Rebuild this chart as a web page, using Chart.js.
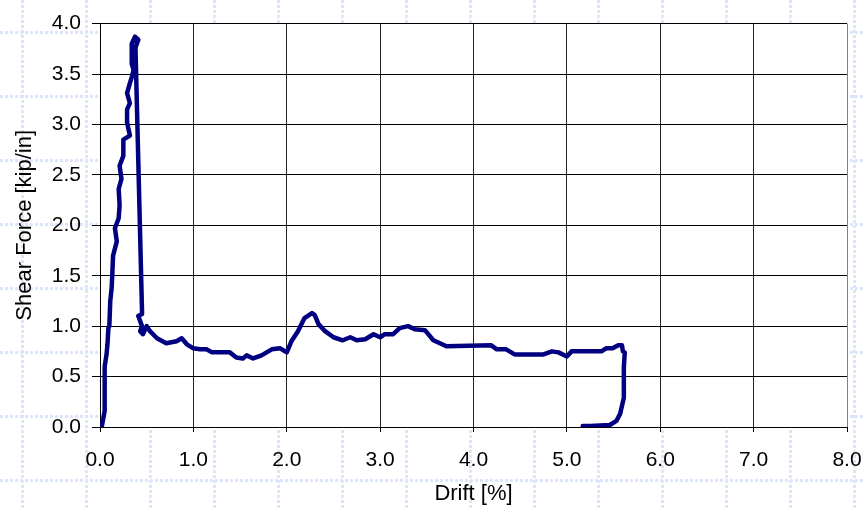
<!DOCTYPE html>
<html>
<head>
<meta charset="utf-8">
<script src="https://cdn.jsdelivr.net/npm/chart.js@4/dist/chart.umd.min.js"></script>
<style>
  html, body { margin: 0; padding: 0; background: #ffffff; }
  #wrap { width: 865px; height: 510px; }
</style>
</head>
<body>
<div id="wrap"><canvas id="c" width="865" height="510"></canvas></div>
<script>
// ---- data ----
const drift = [0.02,0.05,0.05,0.05,0.07,0.08,0.09,0.10,0.11,0.125,0.13,0.14,0.18,0.16,0.20,0.21,0.20,0.23,0.21,0.25,0.25,0.32,0.29,0.29,0.32,0.29,0.32,0.34,0.36,0.34,0.34,0.375,0.41,0.38,0.45,0.45,0.41,0.45,0.43,0.46,0.50,0.535,0.61,0.71,0.82,0.875,0.93,1.0,1.07,1.14,1.2,1.39,1.46,1.53,1.57,1.64,1.73,1.84,1.93,2.0,2.05,2.12,2.19,2.27,2.30,2.34,2.41,2.50,2.60,2.68,2.75,2.84,2.93,3.0,3.05,3.14,3.21,3.30,3.37,3.48,3.57,3.64,3.71,4.19,4.25,4.35,4.44,4.75,4.84,4.91,5.0,5.05,5.37,5.42,5.49,5.55,5.59,5.60,5.62,5.61,5.61,5.57,5.53,5.46,5.25,5.17];
const shear = [0.01,0.16,0.49,0.60,0.72,0.82,0.98,1.00,1.25,1.38,1.48,1.70,1.84,1.97,2.07,2.20,2.36,2.46,2.59,2.69,2.85,2.89,3.02,3.15,3.21,3.31,3.41,3.47,3.54,3.60,3.80,3.87,3.84,3.76,1.15,1.12,1.10,1.00,0.95,0.92,1.00,0.95,0.88,0.83,0.85,0.88,0.82,0.78,0.77,0.77,0.74,0.74,0.69,0.68,0.71,0.68,0.71,0.77,0.78,0.74,0.85,0.95,1.08,1.13,1.11,1.02,0.95,0.89,0.86,0.89,0.86,0.87,0.92,0.89,0.92,0.92,0.98,1.00,0.97,0.96,0.86,0.83,0.80,0.81,0.77,0.77,0.72,0.72,0.75,0.74,0.70,0.75,0.75,0.78,0.78,0.81,0.81,0.75,0.74,0.59,0.29,0.13,0.06,0.02,0.01,0.01];
const xTicks = [0,1,2,3,4,5,6,7,8];
const yTicks = [0,0.5,1,1.5,2,2.5,3,3.5,4];
const xTitle = 'Drift [%]';
const yTitle = 'Shear Force [kip/in]';

const points = drift.map((d, i) => ({ x: d, y: shear[i] }));

const bgPattern = {
  id: 'bgPattern',
  beforeDraw(chart) {
    const { ctx, width, height, chartArea } = chart;
    ctx.save();
    ctx.fillStyle = '#ffffff';
    ctx.fillRect(0, 0, width, height);
    ctx.strokeStyle = '#dde5fb';
    ctx.lineWidth = 3;
    ctx.setLineDash([3, 2]);
    for (let x = 22; x < width; x += 64) {
      ctx.beginPath(); ctx.moveTo(x + 0.5, 0); ctx.lineTo(x + 0.5, height); ctx.stroke();
    }
    for (let y = 32; y < height; y += 64) {
      ctx.beginPath(); ctx.moveTo(0, y + 0.5); ctx.lineTo(width, y + 0.5); ctx.stroke();
    }
    ctx.setLineDash([]);
    ctx.fillStyle = '#ffffff';
    ctx.fillRect(chartArea.left, chartArea.top, chartArea.right - chartArea.left, chartArea.bottom - chartArea.top);
    ctx.restore();
  }
};

const tickFont = { family: '"Liberation Sans", Arial, sans-serif', size: 21 };
const titleFont = { family: '"Liberation Sans", Arial, sans-serif', size: 22 };

new Chart(document.getElementById('c'), {
  type: 'scatter',
  data: {
    datasets: [{
      data: points,
      showLine: true,
      borderColor: '#000080',
      backgroundColor: '#000080',
      borderWidth: 4.5,
      pointRadius: 0,
      tension: 0,
      borderJoinStyle: 'round',
      borderCapStyle: 'round'
    }]
  },
  options: {
    responsive: false,
    animation: false,
    devicePixelRatio: 1,
    layout: { padding: { top: 20, right: 18, bottom: 0, left: 0 } },
    plugins: { legend: { display: false }, tooltip: { enabled: false } },
    scales: {
      x: {
        type: 'linear',
        min: 0, max: 8,
        afterBuildTicks(scale) { scale.ticks = xTicks.map(v => ({ value: v })); },
        afterFit(scale) { scale.height = 83; scale.paddingLeft = 0; scale.paddingRight = 0; },
        border: { color: '#000', width: 1 },
        grid: {
          color: ctx => (ctx.tick && ctx.tick.value === 8 ? '#808080' : '#222'),
          lineWidth: 1,
          tickLength: 5,
          tickColor: '#000'
        },
        ticks: {
          color: '#000', font: tickFont, padding: 16, maxRotation: 0,
          callback: v => Number(v).toFixed(1)
        },
        title: { display: true, text: xTitle, color: '#000', font: titleFont, padding: { top: 0, bottom: 3 } }
      },
      y: {
        type: 'linear',
        min: 0, max: 4,
        afterBuildTicks(scale) { scale.ticks = yTicks.map(v => ({ value: v })); },
        afterFit(scale) { scale.width = 100; },
        border: { color: '#000', width: 1 },
        grid: { color: '#000', lineWidth: 1, tickLength: 8, tickColor: '#000' },
        ticks: {
          color: '#000', font: tickFont, padding: 11,
          callback: v => Number(v).toFixed(1)
        },
        title: { display: true, text: yTitle, color: '#000', font: titleFont, padding: { top: 12, bottom: 0 } }
      }
    }
  },
  plugins: [bgPattern]
});
</script>
</body>
</html>
